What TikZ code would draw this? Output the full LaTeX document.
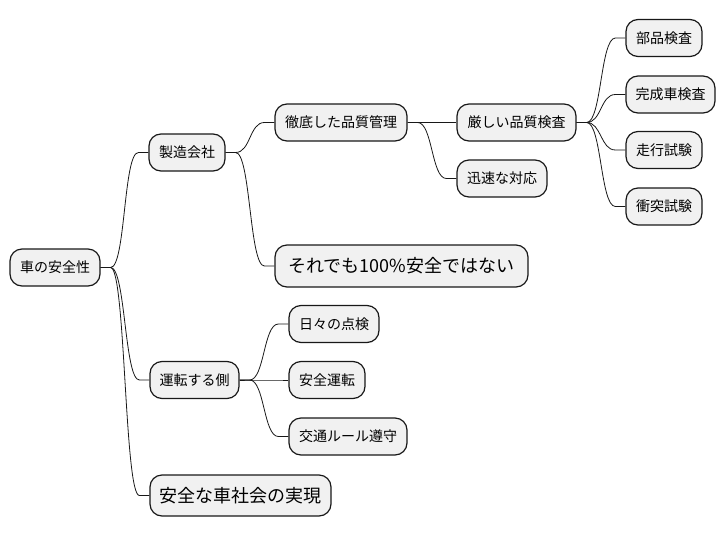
\documentclass[tikz,border=0pt]{standalone}
\usepackage{fontspec}
\setmainfont{Noto Sans CJK JP}
\usetikzlibrary{calc}
\definecolor{nodefill}{HTML}{F1F1F1}
\definecolor{nodeline}{HTML}{181818}
\tikzset{
  mm/.style={draw=nodeline, fill=nodefill, line width=1.2pt, rounded corners=12pt,
    inner sep=0pt, minimum height=37pt, font=\fontsize{14}{16}\selectfont},
  mmbig/.style={mm, minimum height=42pt, font=\fontsize{18}{20}\selectfont},
  link/.style={draw=nodeline, line width=0.8pt}
}
\newcommand{\mmlink}[2]{%
  \draw[link] (#1.east) -- ++(10,0) .. controls +(15,0) and ($(#2.west)+(-25,0)$) .. ($(#2.west)+(-10,0)$) -- (#2.west);}
\begin{document}
\begin{tikzpicture}[x=1pt,y=-1pt]
\useasboundingbox (0,0) rectangle (726,536);
\node[mm, minimum width=90pt] (root) at (55,267.5) {車の安全性};
\node[mm, minimum width=76pt] (mfg) at (187,152.5) {製造会社};
\node[mm, minimum width=132pt] (qc) at (341,122.5) {徹底した品質管理};
\node[mmbig, minimum width=253pt] (notsafe) at (401.5,266) {それでも100\%安全ではない};
\node[mm, minimum width=119pt] (strict) at (516.5,122.5) {厳しい品質検査};
\node[mm, minimum width=90pt] (quick) at (502,178.5) {迅速な対応};
\node[mm, minimum width=76pt] (parts) at (664,38) {部品検査};
\node[mm, minimum width=89pt] (complete) at (670.5,94.5) {完成車検査};
\node[mm, minimum width=76pt] (run) at (664,150) {走行試験};
\node[mm, minimum width=76pt] (crash) at (664,206.5) {衝突試験};
\node[mm, minimum width=89pt] (driver) at (194.5,380) {運転する側};
\node[mm, minimum width=90pt] (daily) at (334,324) {日々の点検};
\node[mm, minimum width=76pt] (safedrive) at (327,380) {安全運転};
\node[mm, minimum width=118pt] (traffic) at (348,436.5) {交通ルール遵守};
\node[mmbig, minimum width=181pt, minimum height=41pt] (society) at (240.5,495.5) {安全な車社会の実現};
\mmlink{root}{mfg}
\mmlink{root}{driver}
\mmlink{root}{society}
\mmlink{mfg}{qc}
\mmlink{mfg}{notsafe}
\mmlink{qc}{strict}
\mmlink{qc}{quick}
\mmlink{strict}{parts}
\mmlink{strict}{complete}
\mmlink{strict}{run}
\mmlink{strict}{crash}
\mmlink{driver}{daily}
\mmlink{driver}{safedrive}
\mmlink{driver}{traffic}
\end{tikzpicture}
\end{document}
